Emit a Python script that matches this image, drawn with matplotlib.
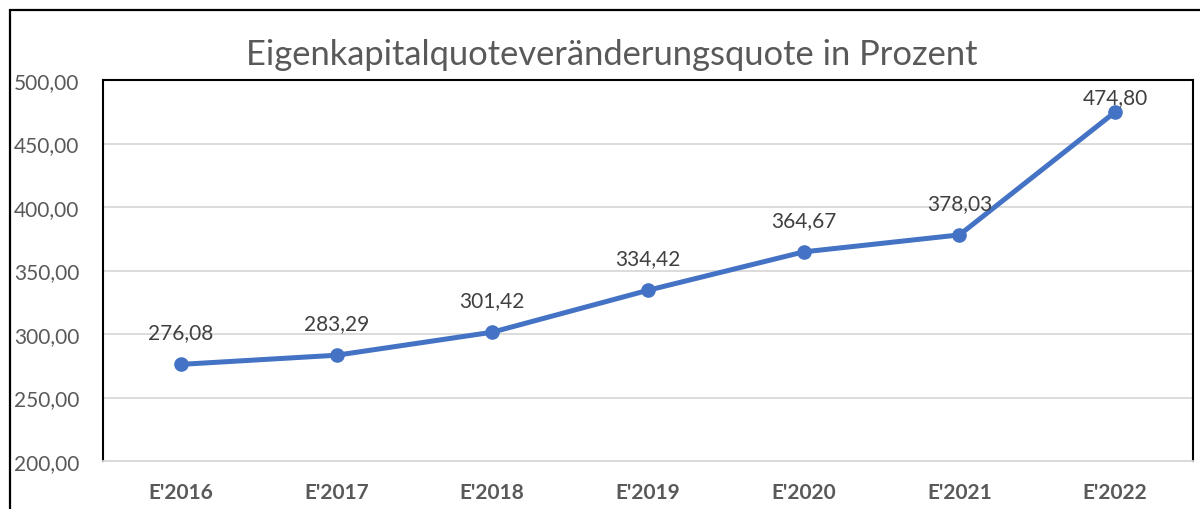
import matplotlib
matplotlib.use("Agg")
import matplotlib.pyplot as plt
from matplotlib.patches import Rectangle
import numpy as np

# data
years = ["E'2016", "E'2017", "E'2018", "E'2019", "E'2020", "E'2021", "E'2022"]
quote = [276.08, 283.29, 301.42, 334.42, 364.67, 378.03, 474.80]
y_ticks = [200, 250, 300, 350, 400, 450, 500]

FONT = "Lato"
LINE = "#4472C4"
GRAY = "#595959"


def de(v):
    return f"{v:.2f}".replace(".", ",")


def main():
    fig = plt.figure(figsize=(12, 5.1), dpi=100)
    ax = fig.add_axes([103 / 1200, 1 - 462 / 510, 1090 / 1200, 381 / 510])

    x = np.arange(len(years))
    ax.plot(x, quote, color=LINE, linewidth=3.6, marker="o", markersize=9.5,
            solid_capstyle="round", zorder=3)

    for i, v in enumerate(quote):
        # last label sits lower, pushed down by the plot edge
        dy = 11 if i == len(quote) - 1 else 23
        ax.annotate(de(v), (i, v), xytext=(0, dy), textcoords="offset points",
                    ha="center", va="center", fontsize=15, color="#404040",
                    fontfamily=FONT)

    ax.set_xlim(-0.5, len(years) - 0.5)
    ax.set_ylim(200, 500)
    ax.set_yticks(y_ticks)
    ax.set_yticklabels([de(t) for t in y_ticks], fontsize=15, color=GRAY,
                       fontfamily=FONT)
    ax.set_xticks(x)
    ax.set_xticklabels(years, fontsize=15, color=GRAY, fontweight="bold",
                       fontfamily=FONT)
    ax.tick_params(axis="both", length=0)
    ax.tick_params(axis="y", pad=17)
    ax.tick_params(axis="x", pad=15)

    ax.yaxis.grid(True, color="#D9D9D9", linewidth=1.3)
    ax.set_axisbelow(True)
    for side in ["left", "top", "right"]:
        ax.spines[side].set_color("black")
        ax.spines[side].set_linewidth(1.5)
    ax.spines["bottom"].set_color("#D9D9D9")
    ax.spines["bottom"].set_linewidth(1.3)

    fig.text(0.51, 1 - 55 / 510, "Eigenkapitalquoteveränderungsquote in Prozent",
             ha="center", va="center", fontsize=24.8, color=GRAY,
             fontfamily=FONT)

    # outer chart frame, cut off at right and bottom
    fig.patches.append(Rectangle((10 / 1200, -0.1), 1.2, 1.1 - 11 / 510,
                                 transform=fig.transFigure, fill=False,
                                 edgecolor="black", linewidth=1.6))

    fig.savefig("out.png", dpi=100, facecolor="white")
    plt.close(fig)


if __name__ == "__main__":
    main()
